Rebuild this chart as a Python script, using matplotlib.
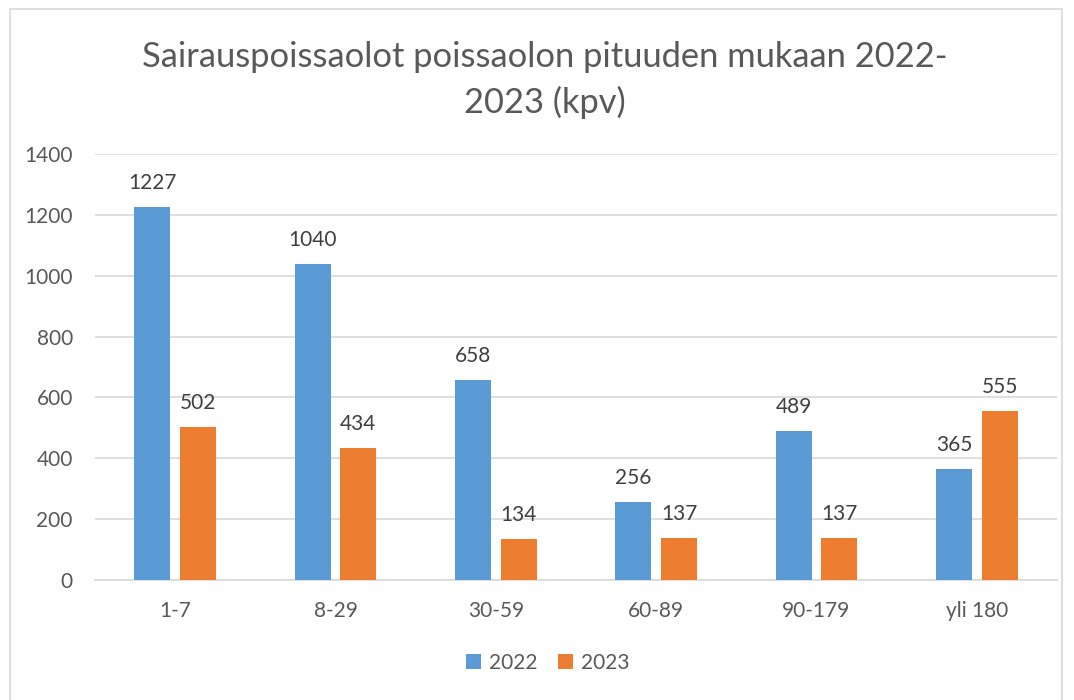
import matplotlib.pyplot as plt
import numpy as np
from matplotlib.patches import Rectangle

categories = ["1-7", "8-29", "30-59", "60-89", "90-179", "yli 180"]
values_2022 = [1227, 1040, 658, 256, 489, 365]
values_2023 = [502, 434, 134, 137, 137, 555]
series_labels = ["2022", "2023"]
title = "Sairauspoissaolot poissaolon pituuden mukaan 2022-\n2023 (kpv)"

BLUE = "#5B9BD5"
ORANGE = "#ED7D31"

plt.rcParams["font.family"] = ["Lato", "DejaVu Sans"]


def main() -> None:
    fig = plt.figure(figsize=(10.74, 7.0), dpi=100)
    fig.patches.append(Rectangle((10 / 1074, -0.01), 1052 / 1074, 0.997,
                                 transform=fig.transFigure, fill=False,
                                 edgecolor="#D9D9D9", linewidth=1.2))
    ax = fig.add_axes([95 / 1074, 1 - 580 / 700, 962 / 1074, 426 / 700])

    x = np.arange(len(categories))
    width = 0.225
    offset = 0.143
    b1 = ax.bar(x - offset, values_2022, width, color=BLUE, label=series_labels[0], zorder=3)
    b2 = ax.bar(x + offset, values_2023, width, color=ORANGE, label=series_labels[1], zorder=3)
    for bars in (b1, b2):
        ax.bar_label(bars, padding=10, fontsize=15, color="#404040")

    ax.set_xlim(-0.5, len(categories) - 0.5)
    ax.set_ylim(0, 1400)
    ax.set_yticks(np.arange(0, 1401, 200))
    ax.set_xticks(x)
    ax.set_xticklabels(categories)
    ax.tick_params(axis="both", length=0, labelsize=15, colors="#595959")
    ax.tick_params(axis="x", pad=15)
    ax.tick_params(axis="y", pad=16)
    ax.grid(axis="y", color="#D9D9D9", linewidth=1.2, zorder=0)
    for side in ("top", "right", "left"):
        ax.spines[side].set_visible(False)
    ax.spines["bottom"].set_color("#D9D9D9")
    ax.spines["bottom"].set_linewidth(1.2)

    fig.text(545 / 1074, 1 - 80 / 700, title, ha="center", va="center",
             fontsize=24.8, color="#595959", linespacing=1.45)

    fig.legend(handles=[b1, b2], labels=series_labels, loc="center",
               bbox_to_anchor=(548 / 1074, 1 - 663 / 700), ncol=2, frameon=False,
               fontsize=15, labelcolor="#595959", handlelength=0.7,
               handleheight=0.7, handletextpad=0.4, columnspacing=1.0)

    fig.savefig("out.png", dpi=100)


if __name__ == "__main__":
    main()
